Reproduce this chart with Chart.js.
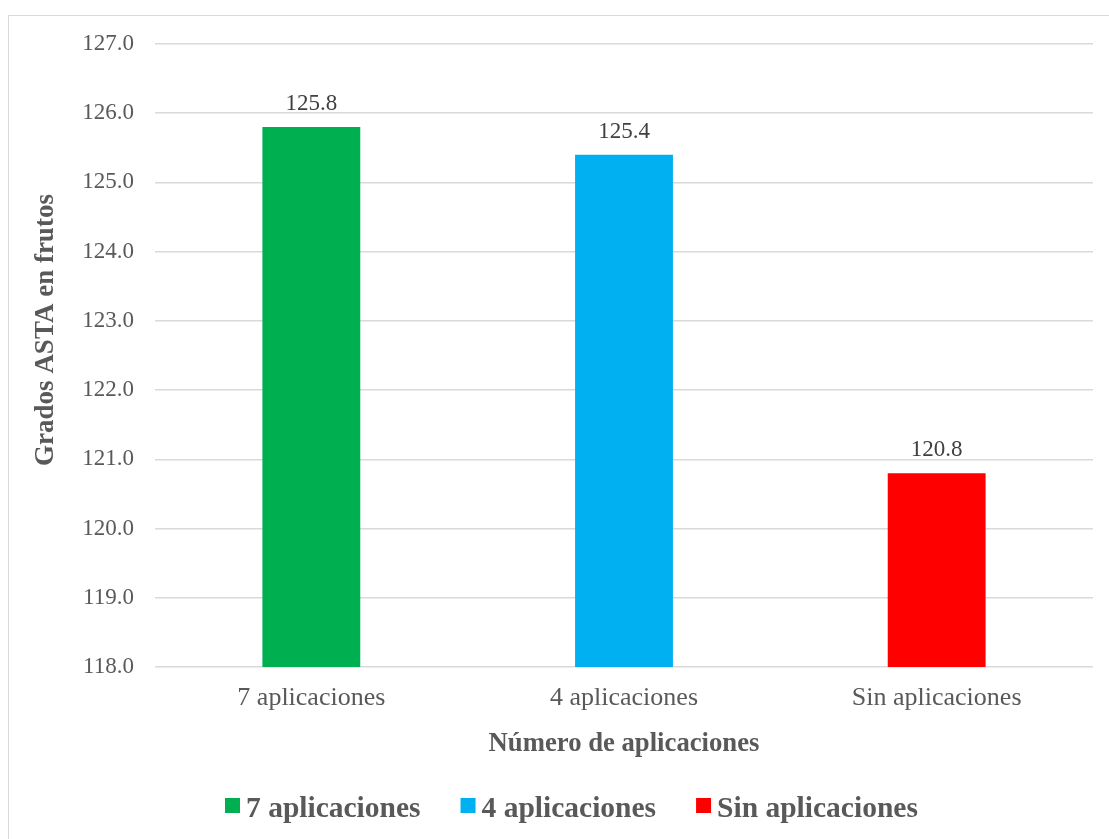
<!DOCTYPE html>
<html>
<head>
<meta charset="utf-8">
<script src="https://cdn.jsdelivr.net/npm/chart.js@4/dist/chart.umd.min.js"></script>
<style>
  html, body { margin: 0; padding: 0; background: #fff; }
  #wrap { width: 1109px; height: 839px; position: relative; }
</style>
</head>
<body>
<div id="wrap"><canvas id="chart"></canvas></div>
<script>
const categories = ["7 aplicaciones", "4 aplicaciones", "Sin aplicaciones"];
const gradosAsta = [125.8, 125.4, 120.8];
const barColors = ["#00b050", "#00b0f0", "#ff0000"];
const yTicks = [118, 119, 120, 121, 122, 123, 124, 125, 126, 127];
const yTitle = "Grados ASTA en frutos";
const xTitle = "Número de aplicaciones";

const FONT = "'Liberation Serif', 'Times New Roman', serif";
const TEXT = "#595959";

// light frame around the whole chart area
const framePlugin = {
  id: "frame",
  beforeDraw(chart) {
    const ctx = chart.ctx;
    ctx.save();
    ctx.fillStyle = "#fff";
    ctx.fillRect(0, 0, chart.width, chart.height);
    ctx.strokeStyle = "#d9d9d9";
    ctx.lineWidth = 1;
    ctx.strokeRect(8.5, 15.5, chart.width + 10, chart.height + 10);
    ctx.restore();
  }
};

// value labels above each bar
const valueLabels = {
  id: "valueLabels",
  afterDatasetsDraw(chart) {
    const ctx = chart.ctx;
    const meta = chart.getDatasetMeta(0);
    ctx.save();
    ctx.font = "23px " + FONT;
    ctx.fillStyle = "#404040";
    ctx.textAlign = "center";
    ctx.textBaseline = "alphabetic";
    meta.data.forEach((bar, i) => {
      ctx.fillText(gradosAsta[i].toFixed(1), bar.x, bar.y - 17);
    });
    ctx.restore();
  }
};

// rotated y title, sitting a little above the axis middle
const yTitlePlugin = {
  id: "yTitle",
  afterDraw(chart) {
    const ctx = chart.ctx;
    ctx.save();
    ctx.translate(46, 330);
    ctx.rotate(-Math.PI / 2);
    ctx.font = "bold 27px " + FONT;
    ctx.fillStyle = TEXT;
    ctx.textAlign = "center";
    ctx.textBaseline = "middle";
    ctx.fillText(yTitle, 0, 0);
    ctx.restore();
  }
};

// legend row at the bottom (one entry per category)
const bottomLegend = {
  id: "bottomLegend",
  afterDraw(chart) {
    const ctx = chart.ctx;
    ctx.save();
    ctx.font = "bold 29.5px " + FONT;
    ctx.textBaseline = "alphabetic";
    ctx.textAlign = "left";
    let x = 225;
    categories.forEach((c, i) => {
      ctx.fillStyle = barColors[i];
      ctx.fillRect(x, 798, 15, 15);
      ctx.fillStyle = TEXT;
      ctx.fillText(c, x + 21, 817);
      x += 21 + ctx.measureText(c).width + 40;
    });
    ctx.restore();
  }
};

new Chart(document.getElementById("chart"), {
  type: "bar",
  data: {
    labels: categories,
    datasets: [{
      label: yTitle,
      data: gradosAsta,
      backgroundColor: barColors,
      borderWidth: 0,
      categoryPercentage: 1,
      barPercentage: 0.313
    }]
  },
  options: {
    responsive: true,
    maintainAspectRatio: false,
    animation: false,
    layout: { padding: { left: 30, right: 16, top: 44, bottom: 72 } },
    scales: {
      x: {
        afterFit(axis) { axis.height = 100; },
        grid: { display: false, drawTicks: false },
        border: { display: false },
        ticks: { color: TEXT, font: { family: FONT, size: 26 }, padding: 16 },
        title: {
          display: true,
          text: xTitle,
          color: TEXT,
          font: { family: FONT, size: 26.7, weight: "bold" },
          padding: { top: 0, bottom: 7 }
        }
      },
      y: {
        min: 118,
        max: 127,
        afterFit(axis) { axis.width = 125; },
        afterBuildTicks(axis) {
          axis.ticks = yTicks.map(v => ({ value: v }));
        },
        grid: { color: "#d9d9d9", lineWidth: 1.5, drawTicks: false },
        border: { display: false },
        ticks: {
          color: TEXT,
          font: { family: FONT, size: 23 },
          padding: 21,
          callback: v => Number(v).toFixed(1)
        }
      }
    },
    plugins: {
      tooltip: { enabled: false },
      legend: { display: false }
    }
  },
  plugins: [framePlugin, valueLabels, yTitlePlugin, bottomLegend]
});
</script>
</body>
</html>
